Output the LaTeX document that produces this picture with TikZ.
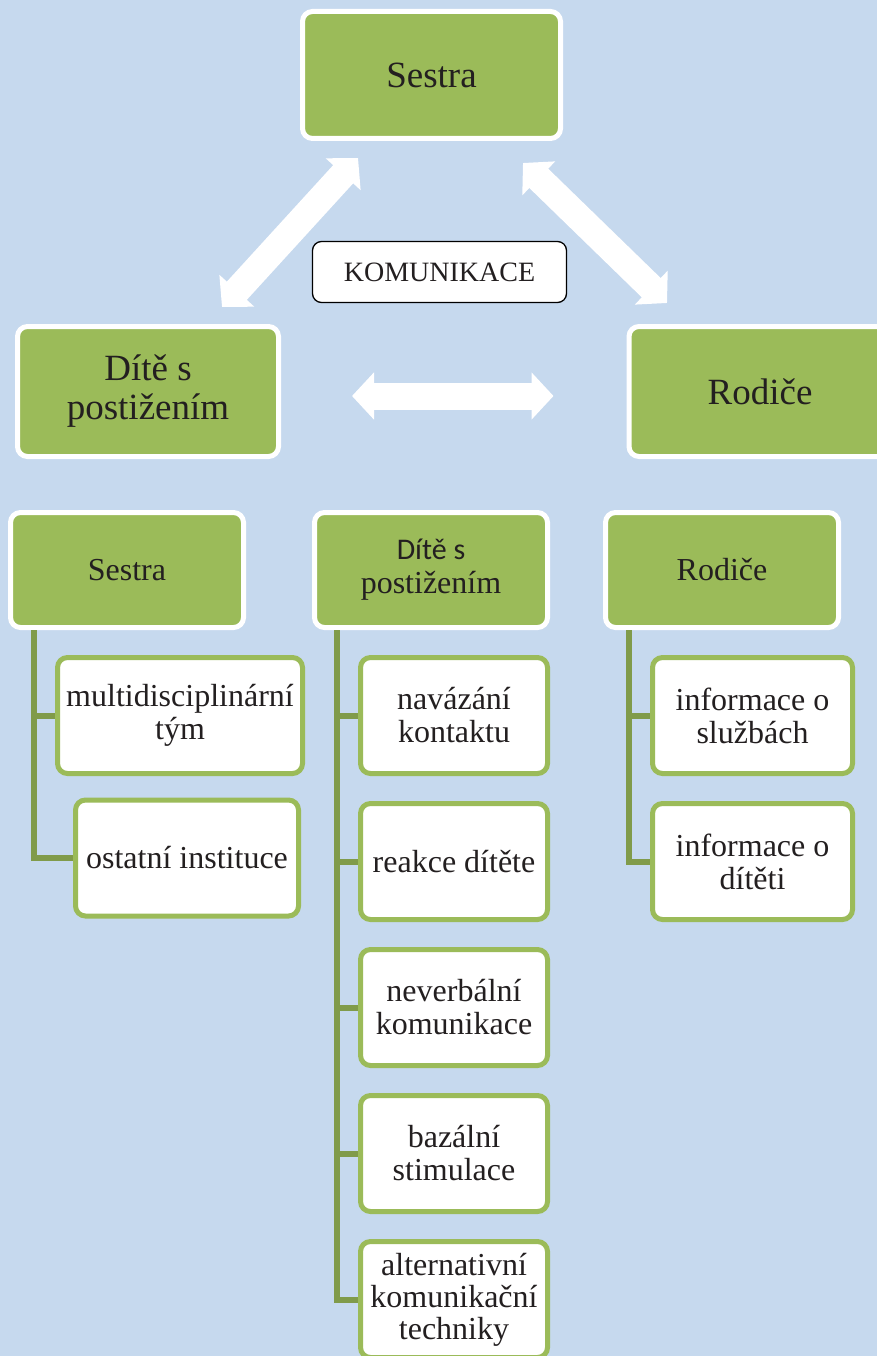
\documentclass[tikz,border=0pt]{standalone}
\usepackage{fontspec}
\setmainfont{Liberation Serif}
\newfontfamily\calibrifont{Carlito}
\usetikzlibrary{positioning,arrows.meta}
\definecolor{bgblue}{HTML}{C6D9EE}
\definecolor{boxgreen}{HTML}{9BBB59}
\definecolor{linegreen}{HTML}{809B4A}
\definecolor{inkdark}{HTML}{231F20}

\begin{document}
\begin{tikzpicture}[x=1pt, y=-1pt, node distance=25pt, text=inkdark]
  \tikzstyle{topbox} = [rectangle, rounded corners=10pt, draw=white, line width=5pt, fill=boxgreen, align=center, inner sep=0pt, font=\fontsize{37}{39}\selectfont]
  \tikzstyle{headbox} = [topbox, minimum width=233pt, minimum height=115pt, font=\fontsize{32}{34}\selectfont]
  \tikzstyle{leaf} = [rectangle, rounded corners=10pt, draw=boxgreen, line width=5pt, fill=white, align=center, inner sep=0pt, minimum height=116pt, font=\fontsize{32}{33}\selectfont]
  \tikzstyle{commbox} = [rectangle, rounded corners=9pt, draw=black, line width=1.3pt, fill=white, minimum width=254pt, minimum height=61pt, inner sep=0pt, font=\fontsize{28}{30}\selectfont]
  \tikzstyle{branch} = [draw=linegreen, line width=6pt]
  \tikzstyle{wayarrow} = [draw=white, line width=27pt, {Triangle[length=22pt, width=46pt]}-{Triangle[length=22pt, width=46pt]}]

  \clip (0,0) rectangle (877,1356);
  \fill[bgblue] (0,0) rectangle (877,1356);

  % communication triangle
  \node[topbox, minimum width=258pt, minimum height=127pt] (sestra) at (431.5,75) {Sestra};
  \node[topbox, minimum width=261pt, minimum height=130pt] (dite) at (148,391.5) {Dítě s\\postižením};
  \node[topbox, minimum width=262pt, minimum height=130pt] (rodice) at (760,391.5) {Rodiče};
  \node[commbox] (komunikace) at (439.5,272) {KOMUNIKACE};

  \coordinate (ditetip) at (222,307);
  \coordinate (sestratipl) at (358,158);
  \coordinate (sestratipr) at (523,163);
  \coordinate (rodicetip) at (667,303);
  \draw[wayarrow] (ditetip) -- (sestratipl);
  \draw[wayarrow] (sestratipr) -- (rodicetip);
  \draw[wayarrow, shorten <=71pt, shorten >=73pt] ([yshift=-4.5pt]dite.east) -- ([yshift=-4.5pt]rodice.west);

  % headers
  \node[headbox] (hsestra) at (127,570) {Sestra};
  \node[headbox, right=66pt of hsestra] (hdite) {{\calibrifont\fontsize{30}{34}\selectfont Dítě s}\\postižením};
  \node[headbox, right=53pt of hdite] (hrodice) {Rodiče};

  % sestra
  \node[leaf, minimum width=245pt] (multi) at (180,715.5) {multidisciplinární\\tým};
  \node[leaf, minimum width=223pt] (ostatni) at (187,858) {ostatní instituce};

  % dite
  \node[leaf, minimum width=187pt] (navazani) at (454,715.5) {navázání\\kontaktu};
  \node[leaf, minimum width=187pt, below=of navazani] (reakce) {reakce dítěte};
  \node[leaf, minimum width=187pt, below=of reakce] (neverbal) {neverbální\\komunikace};
  \node[leaf, minimum width=187pt, below=of neverbal] (bazal) {bazální\\stimulace};
  \node[leaf, minimum width=187pt, below=of bazal, font=\fontsize{32}{32}\selectfont] (altern) {alternativní\\komunikační\\techniky};

  % rodice
  \node[leaf, minimum width=200pt] (infosluzby) at (752.5,715.5) {informace o\\službách};
  \node[leaf, minimum width=200pt, below=of infosluzby] (infodite) {informace o\\dítěti};

  \draw[branch] ([xshift=26pt]hsestra.south west) |- (multi.west);
  \draw[branch] ([xshift=26pt]hsestra.south west) |- (ostatni.west);
  \foreach \leafname in {navazani,reakce,neverbal,bazal,altern}
    \draw[branch] ([xshift=25pt]hdite.south west) |- (\leafname.west);
  \draw[branch] ([xshift=26pt]hrodice.south west) |- (infosluzby.west);
  \draw[branch] ([xshift=26pt]hrodice.south west) |- (infodite.west);
\end{tikzpicture}
\end{document}
